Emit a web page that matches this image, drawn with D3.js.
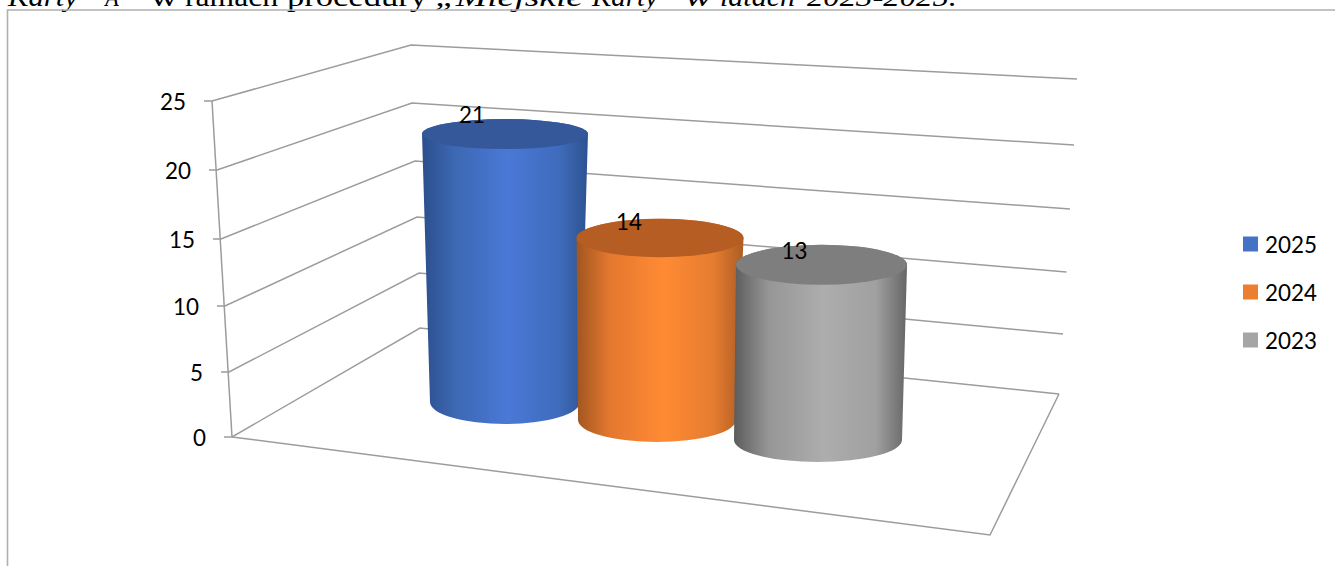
<!DOCTYPE html>
<html><head><meta charset="utf-8">
<script src="https://cdn.jsdelivr.net/npm/d3@7"></script>
<style>html,body{margin:0;padding:0;background:#fff;overflow:hidden}svg{display:block}</style>
</head><body><div id="c"></div>
<script>
// ---- data ----
const seriesNames = ["2025", "2024", "2023"];
const seriesValues = [21, 14, 13];
const axisTicks = [0, 5, 10, 15, 20, 25];
const captionWords = ["Karty", "\u201CA\u201D", "w", "ramach", "procedury", "\u201EMiejskie", "Karty\u201D", "w", "latach", "2023-2025."];
const captionItalic = [1, 1, 0, 0, 0, 1, 1, 1, 1, 1];
// ---- layout (perspective box, ticks 0..25) ----
const captionX = [8, 93, 150, 185, 287, 435, 592, 685, 720, 807];
const captionW = [70, 38, 28, 93, 140, 148, 82, 27, 75, 150];
const frontX = [232, 229, 225, 221, 217, 212], frontY = [437, 372, 306, 239, 170, 101];
const backX  = [420, 419, 417, 415, 412, 411], backY  = [328, 273, 217, 161, 103, 45];
const rightX = [1059, 1063, 1066.5, 1070, 1074, 1077], rightY = [394, 334, 272, 209, 145, 79];
const floorCorner = [990, 535];
const cylBase = [{cx:505,cy:402,rx:75,ry:22},{cx:657,cy:420,rx:79,ry:22},{cx:818,cy:440,rx:84,ry:22}];
const cylTop  = [{cx:505,cy:83,rx:84.5,ry:13.7},{cx:662.4,cy:95,rx:87,ry:17},{cx:824.7,cy:103,rx:87,ry:18}];
const sideStops = [
  ["#2b4f8c","#3d68b4","#4a78d6","#3f6cbc","#2c5290"],
  ["#a05620","#e4782f","#ff8a33","#e67c30","#ad5d24"],
  ["#5c5c5c","#969696","#adadad","#a0a0a0","#666666"]];
const topFill = ["#34589a", "#b55d22", "#7e7e7e"];
const legendFill = ["#4472c4", "#ed7d31", "#a5a5a5"];
const legendY = [244, 292, 340];
const labelOffsetX = [-33, -31, -27], labelOffsetY = [-20, -17, -15];

const W = 1335, H = 566, font = "Lato, 'Open Sans', sans-serif", gridCol = "#9c9c9c", digitW = 13;
const svg = d3.select("#c").append("svg").attr("width", W).attr("height", H);
const edge = r => d3.scaleLinear().domain(axisTicks).range(r);
const fx = edge(frontX), fy = edge(frontY), bx = edge(backX), by = edge(backY), rx = edge(rightX), ry = edge(rightY);
const line = d3.line();
const digits = sel => sel.attr("font-family", font).attr("font-size", 24).attr("fill", "#000")
  .attr("lengthAdjust", "spacingAndGlyphs").attr("textLength", d => String(d).length * digitW);

// caption, cut by the top of the page as in the reference
captionWords.forEach((w, i) => svg.append("text").text(w).attr("x", captionX[i]).attr("y", 6)
  .attr("textLength", captionW[i]).attr("lengthAdjust", "spacingAndGlyphs")
  .attr("font-family", "'Liberation Serif', serif").attr("font-size", 27)
  .attr("font-style", captionItalic[i] ? "italic" : "normal").attr("fill", "#000"));

// outer frame
svg.append("path").attr("d", line([[7.5, H], [7.5, 10], [W, 10]])).attr("fill", "none")
  .attr("stroke", "#b0b0b0").attr("stroke-width", 1.6);

// walls and ticks
const grid = svg.append("g").attr("fill", "none").attr("stroke", gridCol).attr("stroke-width", 1.5);
axisTicks.forEach(t => {
  grid.append("path").attr("d", line([[fx(t) - 8, fy(t)], [fx(t), fy(t)], [bx(t), by(t)], [rx(t), ry(t)]]));
});
grid.append("path").attr("d", line([[fx(0), fy(0)], [fx(25), fy(25)]]));
grid.append("path").attr("d", line([[fx(0), fy(0)], floorCorner, [rx(0), ry(0)]]));

// tick labels
svg.append("g").selectAll("text").data(axisTicks).join("text")
  .attr("x", t => fx(t) - 26).attr("y", t => fy(t) + 9).attr("text-anchor", "end")
  .call(digits).text(t => t);

// gradients
const defs = svg.append("defs");
sideStops.forEach((st, i) => {
  const g = defs.append("linearGradient").attr("id", "side" + i).attr("x1", 0).attr("x2", 1).attr("y1", 0).attr("y2", 0);
  st.forEach((c, k) => g.append("stop").attr("offset", [0, .2, .52, .82, 1][k]).attr("stop-color", c));
});

// cylinders
seriesValues.forEach((v, i) => {
  const s = k => d3.scaleLinear().domain([0, 25]).range([cylBase[i][k], cylTop[i][k]]);
  const cx = s("cx"), cy = s("cy"), rr = s("rx"), rv = s("ry");
  svg.append("path").attr("fill", `url(#side${i})`).attr("d",
    `M${cx(v) - rr(v)},${cy(v)} L${cx(0) - rr(0)},${cy(0)} A${rr(0)},${rv(0)} 0 0 0 ${cx(0) + rr(0)},${cy(0)} L${cx(v) + rr(v)},${cy(v)} A${rr(v)},${rv(v)} 0 0 0 ${cx(v) - rr(v)},${cy(v)} Z`);
  svg.append("ellipse").attr("cx", cx(v)).attr("cy", cy(v)).attr("rx", rr(v)).attr("ry", rv(v)).attr("fill", topFill[i]);
});
// data labels
seriesValues.forEach((v, i) => {
  const yS = d3.scaleLinear().domain([0, 25]).range([cylBase[i].cy, cylTop[i].cy]);
  const xS = d3.scaleLinear().domain([0, 25]).range([cylBase[i].cx, cylTop[i].cx]);
  svg.append("text").datum(v).attr("x", xS(v) + labelOffsetX[i]).attr("y", yS(v) + labelOffsetY[i] + 9)
    .attr("text-anchor", "middle").call(digits).text(v);
});
// legend
seriesNames.forEach((n, i) => {
  svg.append("rect").attr("x", 1243).attr("y", legendY[i] - 7.5).attr("width", 15).attr("height", 15).attr("fill", legendFill[i]);
  svg.append("text").datum(n).attr("x", 1265).attr("y", legendY[i] + 9).call(digits).text(n);
});
</script></body></html>
